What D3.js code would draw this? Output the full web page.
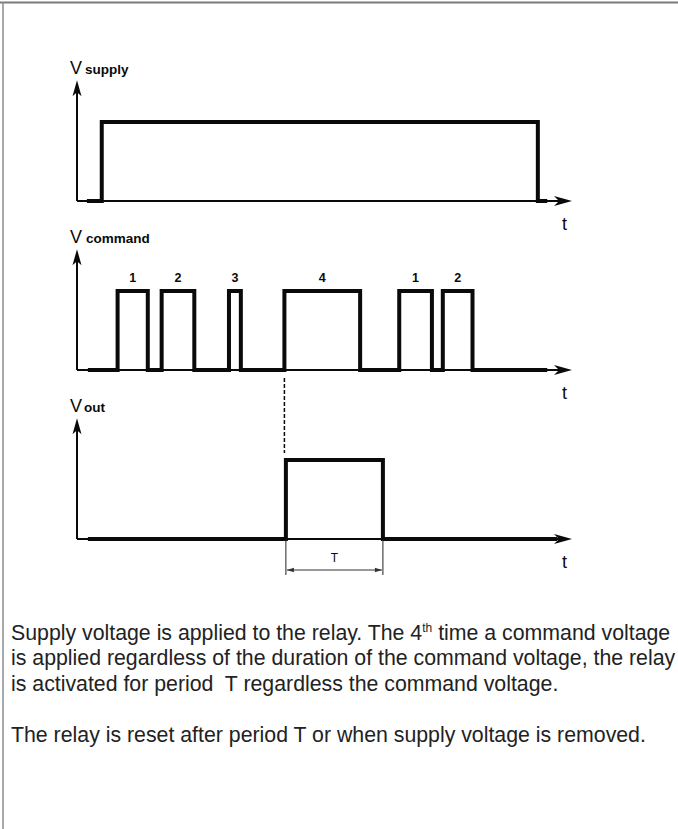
<!DOCTYPE html>
<html><head><meta charset="utf-8">
<script src="https://cdn.jsdelivr.net/npm/d3@7"></script>
<style>body{margin:0;background:#fff}svg{display:block}</style>
</head><body><svg id="chart" width="678" height="829"></svg>
<script>
// ---- data ----
const panelNames = ["supply", "command", "out"];
const signalStart = [2.0, 2.2, 2.2];
const signalEnd = [95.0, 95.0, 97.0];
const supplyPulses = [[5.0, 93.1]];
const commandPulses = [[8.2, 14.3], [17.1, 23.7], [30.7, 33.1], [41.9, 57.2], [65.1, 71.7], [73.9, 79.9]];
const commandCounts = ["1", "2", "3", "4", "1", "2"];
const outPulses = [[42.2, 61.8]];
const periodT = [42.2, 61.8];
const periodLabel = "T";
const triggerTime = 41.9;
const axisLabel = "t";
const paragraph1 = [
  ["Supply voltage is applied to the relay. The 4", "th", " time a command voltage"],
  ["is applied regardless of the duration of the command voltage, the relay"],
  ["is activated for period  T regardless the command voltage."]
];
const paragraph2 = ["The relay is reset after period T or when supply voltage is removed."];

// ---- layout ----
const svg = d3.select("#chart");
svg.append("rect").attr("width", 678).attr("height", 829).attr("fill", "#fff");
// frame
svg.append("line").attr("x1", 0).attr("x2", 678).attr("y1", 2.5).attr("y2", 2.5).attr("stroke", "#7a7a7a").attr("stroke-width", 2);
svg.append("line").attr("x1", 3).attr("x2", 3).attr("y1", 2).attr("y2", 829).attr("stroke", "#8c8c8c").attr("stroke-width", 1.5);

const x = d3.scaleLinear().domain([0, 100]).range([77, 572]);
const pulsesBy = [supplyPulses, commandPulses, outPulses];
const ink = "#0a0a0a";
const font = "'Liberation Sans', Arial, sans-serif";

function buildPoints(start, end, pulses) {
  const pts = [[start, 0]];
  pulses.forEach(([s, e]) => { pts.push([s, 0], [s, 1], [e, 1], [e, 0]); });
  pts.push([end, 0]);
  return pts;
}

panelNames.forEach((name, i) => {
  const base = 201 + 169 * i;
  const y = d3.scaleLinear().domain([0, 1]).range([base, base - 79]);
  const g = svg.append("g");
  const x0 = x(0), y0 = y(0);
  const yTop = y(1.53), xEnd = x(100);
  // axes
  g.append("line").attr("x1", x0).attr("x2", x0).attr("y1", y0).attr("y2", yTop + 10).attr("stroke", ink).attr("stroke-width", 2);
  g.append("path").attr("d", `M${x0},${yTop} L${x0 - 4.5},${yTop + 16} L${x0},${yTop + 12} L${x0 + 4.5},${yTop + 16} Z`).attr("fill", ink);
  g.append("line").attr("x1", x0).attr("x2", xEnd - 10).attr("y1", y0).attr("y2", y0).attr("stroke", ink).attr("stroke-width", 2);
  g.append("path").attr("d", `M${xEnd},${y0} L${xEnd - 18},${y0 - 5} L${xEnd - 13},${y0} L${xEnd - 18},${y0 + 5} Z`).attr("fill", ink);
  // signal
  const line = d3.line().x(d => x(d[0])).y(d => y(d[1]));
  g.append("path").attr("d", line(buildPoints(signalStart[i], signalEnd[i], pulsesBy[i])))
    .attr("fill", "none").attr("stroke", ink).attr("stroke-width", 4).attr("stroke-linejoin", "miter");
  // labels
  const lab = g.append("text").attr("x", 70).attr("y", base - 127).attr("fill", ink).attr("font-family", font);
  lab.append("tspan").attr("font-size", 18).text("V");
  lab.append("tspan").attr("x", name === "command" ? 86 : (name === "out" ? 84 : 85)).attr("font-size", 13.5).attr("font-weight", "bold").text(name);
  g.append("text").attr("x", 562).attr("y", base + 29).attr("fill", ink).attr("font-family", font).attr("font-size", 18).text(axisLabel);

  if (name === "command") {
    g.selectAll("text.cnt").data(commandPulses).join("text").attr("class", "cnt")
      .attr("x", d => x((d[0] + d[1]) / 2)).attr("y", base - 88)
      .attr("text-anchor", "middle").attr("font-family", font).attr("font-size", 12.5).attr("font-weight", "bold").attr("fill", ink)
      .text((d, k) => commandCounts[k]);
  }
  if (name === "out") {
    // dashed trigger line
    svg.append("line").attr("x1", x(triggerTime)).attr("x2", x(triggerTime)).attr("y1", 378).attr("y2", 453)
      .attr("stroke", ink).attr("stroke-width", 1.5).attr("stroke-dasharray", "4,2");
    // period dimension
    const xa = x(periodT[0]), xb = x(periodT[1]);
    [xa, xb].forEach(xx => g.append("line").attr("x1", xx).attr("x2", xx).attr("y1", y0).attr("y2", y0 + 36).attr("stroke", "#222").attr("stroke-width", 1));
    const yd = y0 + 31;
    g.append("line").attr("x1", xa + 1).attr("x2", xb - 1).attr("y1", yd).attr("y2", yd).attr("stroke", "#333").attr("stroke-width", 1);
    g.append("path").attr("d", `M${xa + 1},${yd} L${xa + 8},${yd - 2.2} L${xa + 8},${yd + 2.2} Z M${xb - 1},${yd} L${xb - 8},${yd - 2.2} L${xb - 8},${yd + 2.2} Z`).attr("fill", "#333");
    g.append("text").attr("x", (xa + xb) / 2).attr("y", y0 + 23).attr("text-anchor", "middle").attr("font-family", font).attr("font-size", 12).attr("fill", ink).text(periodLabel);
  }
});

// ---- paragraph text ----
const txt = svg.append("g").attr("font-family", font).attr("font-size", 21.3).attr("fill", "#222");
const lineYs = [640, 665, 690.5];
paragraph1.forEach((parts, k) => {
  const t = txt.append("text").attr("x", 11).attr("y", lineYs[k]).attr("xml:space", "preserve").style("white-space", "pre");
  if (parts.length === 3) {
    t.append("tspan").text(parts[0]);
    t.append("tspan").attr("font-size", 12).attr("dy", -8).text(parts[1]);
    t.append("tspan").attr("dy", 8).text(parts[2]);
  } else {
    t.text(parts[0]);
  }
});
txt.append("text").attr("x", 11).attr("y", 741.5).text(paragraph2[0]);
</script>
</body></html>
